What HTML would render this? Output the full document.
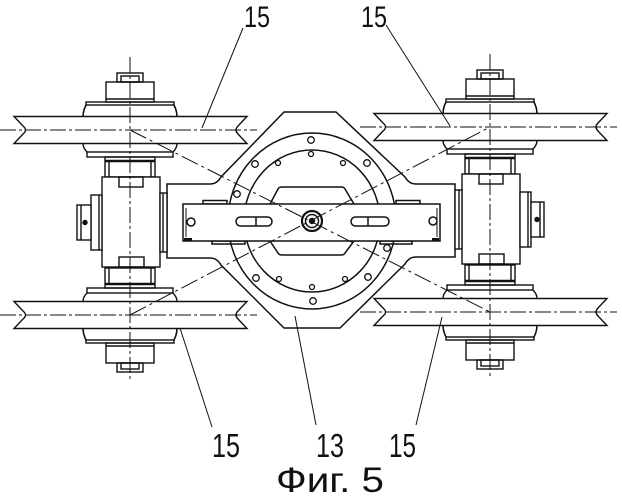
<!DOCTYPE html>
<html><head><meta charset="utf-8"><style>
html,body{margin:0;padding:0;background:#fff;}
svg{display:block;}
</style></head><body>
<svg width="622" height="500" viewBox="0 0 622 500" xmlns="http://www.w3.org/2000/svg">
<defs>
<g id="half" fill="none" stroke="#111" stroke-width="1.4">
  <rect x="-13" y="-57" width="26" height="9"/>
  <rect x="-9" y="-54" width="18" height="6"/>
  <rect x="-24" y="-48" width="48" height="20"/>
  <line x1="-24" y1="-31" x2="24" y2="-31"/>
  <rect x="-44" y="-28" width="88" height="3"/>
  <path d="M-44,-25 Q-47,-19 -47,-13.5 M44,-25 Q47,-19 47,-13.5"/>
  <path d="M-47,13.5 Q-47,18 -43,22 M47,13.5 Q47,18 43,22"/>
  <rect x="-43" y="22" width="86" height="5"/>
  <rect x="-25" y="27" width="50" height="20"/>
  <line x1="-25" y1="31" x2="25" y2="31" stroke-width="2.4"/>
  <line x1="-21" y1="31" x2="-21" y2="47"/>
  <line x1="21" y1="31" x2="21" y2="47"/>
  <path d="M-116,-13.5 H117 L108,-4 Q104,0 108,4 L117,13.5 H-116 L-107,4 Q-102,0 -107,-4 Z" fill="#fff"/>
  <path d="M-44,-25 Q-47,-19 -47,-13.5 M44,-25 Q47,-19 47,-13.5"/>
  <line x1="-130" y1="0" x2="127" y2="0" stroke-width="1" stroke-dasharray="16 3 3 3"/>
</g>
<g id="core" fill="none" stroke="#111" stroke-width="1.4">
  <use href="#half"/>
  <use href="#half" transform="translate(0,185) scale(1,-1)"/>
  <rect x="-28" y="47" width="58" height="90" fill="#fff"/>
  <rect x="-11" y="47" width="24" height="10"/>
  <rect x="-11" y="127" width="25" height="10"/>
  <line x1="0" y1="-73" x2="0" y2="250" stroke-width="1" stroke-dasharray="16 3 3 3"/>
</g>
</defs>

<!-- Frame 13 -->
<g fill="none" stroke="#111" stroke-width="1.5">
  <path d="M284,112 H336 L405,177 Q409,184 416,184 H455 V257 H416 Q409,257 405,264 L340,328 H284 L221,265 Q217,258 210,258 H167 V184 H210 Q217,184 221,177 Z" fill="#fff"/>
  <ellipse cx="312" cy="221" rx="84" ry="88"/>
  <ellipse cx="312" cy="221" rx="68" ry="71"/>
  <!-- outer ring holes -->
  <g stroke-width="1.3">
    <circle cx="311" cy="140" r="3.3"/>
    <circle cx="255" cy="164" r="3.3"/>
    <circle cx="367" cy="163" r="3.3"/>
    <circle cx="237" cy="194" r="3.3"/>
    <circle cx="256" cy="278" r="3.3"/>
    <circle cx="368" cy="277" r="3.3"/>
    <circle cx="313" cy="301" r="3.3"/>
    <circle cx="387" cy="248" r="3.3"/>
    <circle cx="311" cy="154" r="2.5"/>
    <circle cx="278" cy="163" r="2.5"/>
    <circle cx="343" cy="163" r="2.5"/>
    <circle cx="279" cy="279" r="2.5"/>
    <circle cx="345" cy="279" r="2.5"/>
    <circle cx="312" cy="287" r="2.5"/>
  </g>
  <!-- window -->
  <path d="M270,204 L278,189 Q279,187 282,187 H341 Q344,187 345,189 L354,204 M270,241 L278,253 Q279,255 282,255 H341 Q344,255 345,253 L354,241"/>
  <!-- tabs -->
  <rect x="203" y="200.5" width="24" height="3.5"/>
  <rect x="396" y="200.5" width="24" height="3.5"/>
  <rect x="212" y="241" width="33" height="3"/>
  <rect x="380" y="241" width="32" height="3"/>
  <!-- bar -->
  <rect x="183" y="204" width="257" height="37" fill="#fff"/>
  <line x1="186" y1="208" x2="186" y2="237" stroke-width="1"/>
  <line x1="437" y1="208" x2="437" y2="237" stroke-width="1"/>
  <rect x="184" y="238" width="8" height="2.5" fill="#111" stroke="none"/>
  <rect x="432" y="238" width="7" height="2.5" fill="#111" stroke="none"/>
  <circle cx="191" cy="222" r="4"/>
  <circle cx="433" cy="221" r="4"/>
  <rect x="236" y="217" width="36" height="9" rx="4.5"/>
  <line x1="256" y1="217" x2="256" y2="226"/>
  <rect x="351" y="217" width="38" height="9" rx="4.5"/>
  <line x1="368" y1="217" x2="368" y2="226"/>
  <circle cx="312" cy="221" r="10" stroke-width="2.2"/>
  <circle cx="312" cy="221" r="6.5" stroke-width="1.5"/>
  <circle cx="312" cy="221" r="2.5" fill="#111"/>
</g>

<!-- Left column -->
<g transform="translate(130,130)">
  <use href="#core"/>
  <g fill="#fff" stroke="#111" stroke-width="1.4">
    <rect x="-39" y="65" width="11" height="55"/>
    <line x1="-31" y1="65" x2="-31" y2="120"/>
    <rect x="-53" y="75" width="14" height="35"/>
    <line x1="-49" y1="75" x2="-49" y2="110"/>
    <circle cx="-45" cy="92.5" r="2" fill="#111"/>
    <rect x="30" y="63" width="7" height="59"/>
    <line x1="33" y1="63" x2="33" y2="122"/>
  </g>
</g>

<!-- Right column -->
<g transform="translate(490,127)">
  <use href="#core"/>
  <g fill="#fff" stroke="#111" stroke-width="1.4">
    <rect x="30" y="65" width="11" height="55"/>
    <line x1="38" y1="65" x2="38" y2="120"/>
    <rect x="41" y="75" width="13" height="35"/>
    <line x1="50" y1="75" x2="50" y2="110"/>
    <circle cx="47" cy="92.5" r="2" fill="#111"/>
    <rect x="-35" y="63" width="7" height="59"/>
    <line x1="-31" y1="63" x2="-31" y2="122"/>
  </g>
</g>

<!-- diagonal centerlines -->
<g stroke="#111" stroke-width="1" fill="none" stroke-dasharray="18 4 3 4">
  <line x1="130" y1="130" x2="490" y2="312"/>
  <line x1="130" y1="315" x2="490" y2="127"/>
</g>

<!-- leaders -->
<g stroke="#111" stroke-width="1">
  <line x1="243" y1="28" x2="202" y2="128"/>
  <line x1="386" y1="25" x2="450" y2="126"/>
  <line x1="180" y1="328" x2="212" y2="427"/>
  <line x1="295" y1="316" x2="316" y2="425"/>
  <line x1="442" y1="317" x2="416" y2="425"/>
</g>

<!-- labels -->
<g font-family="'Liberation Sans', 'DejaVu Sans', sans-serif" fill="#111">
  <text x="244" y="27" font-size="30" textLength="26" lengthAdjust="spacingAndGlyphs">15</text>
  <text x="361" y="27" font-size="30" textLength="26" lengthAdjust="spacingAndGlyphs">15</text>
  <text x="212" y="457" font-size="33" textLength="28" lengthAdjust="spacingAndGlyphs">15</text>
  <text x="316" y="457" font-size="33" textLength="28" lengthAdjust="spacingAndGlyphs">13</text>
  <text x="389" y="457" font-size="33" textLength="27" lengthAdjust="spacingAndGlyphs">15</text>
  <text x="276" y="492" font-size="35" textLength="108" lengthAdjust="spacingAndGlyphs">Фиг. 5</text>
</g>
</svg>
</body></html>
